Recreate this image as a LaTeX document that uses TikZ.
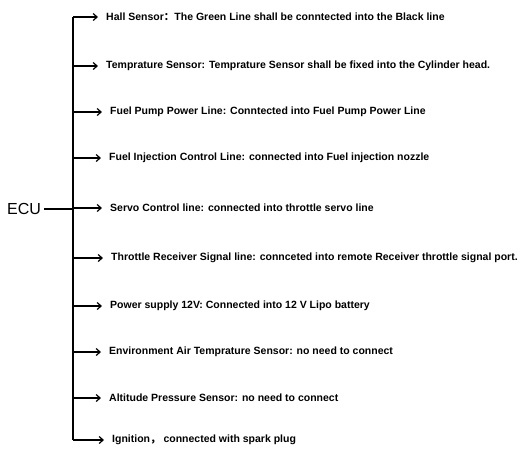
\documentclass[tikz,border=0pt]{standalone}
\usepackage{fontspec}
\setmainfont{Liberation Sans}
\newfontfamily\cjk{Noto Sans CJK SC}
\usetikzlibrary{arrows.meta,positioning}

\begin{document}
\begin{tikzpicture}[x=1pt,y=-1pt,
        every node/.style={inner sep=0pt,anchor=west,font=\bfseries\fontsize{10.5}{12}\selectfont},
        trunk/.style={line width=1.2pt},
        branch/.style={line width=1.2pt,-{Straight Barb[length=4pt,width=7pt]},shorten >=8pt}
    ]
    \useasboundingbox (0,0) rectangle (532,461);
    \coordinate (top) at (73,17);
    \coordinate (bot) at (73,440);
    % outputs
    \node (hall) at (106,17) {Hall Sensor{\cjk ：}The Green Line shall be conntected into the Black line};
    \node (temp) at (106,66) {Temprature Sensor: Temprature Sensor shall be fixed into the Cylinder head.};
    \node (pump) at (110,112) {Fuel Pump Power Line: Conntected into Fuel Pump Power Line};
    \node (inj) at (109,158) {Fuel Injection Control Line: connected into Fuel injection nozzle};
    \node (servo) at (110,208) {Servo Control line: connected into throttle servo line};
    \node (thr) at (111,258) {Throttle Receiver Signal line: connceted into remote Receiver throttle signal port.};
    \node (pwr) at (110,306) {Power supply 12V: Connected into 12 V Lipo battery};
    \node (env) at (109,352) {Environment Air Temprature Sensor: no need to connect};
    \node (alt) at (109,398) {Altitude Pressure Sensor: no need to connect};
    \node (ign) at (112,440) {Ignition{\cjk ，} connected with spark plug};
    % ECU
    \node[font=\fontsize{16}{18}\selectfont,anchor=center] (ecu) at (24,209) {ECU};
    \draw[trunk] (top) -- (bot);
    \draw[trunk] (ecu.east) ++(3,0) -- (ecu.east -| top);
    \foreach \n in {hall,temp,pump,inj,servo,thr,pwr,env,alt,ign}
        \draw[branch] (top |- \n.west) -- (\n.west);
\end{tikzpicture}
\end{document}
